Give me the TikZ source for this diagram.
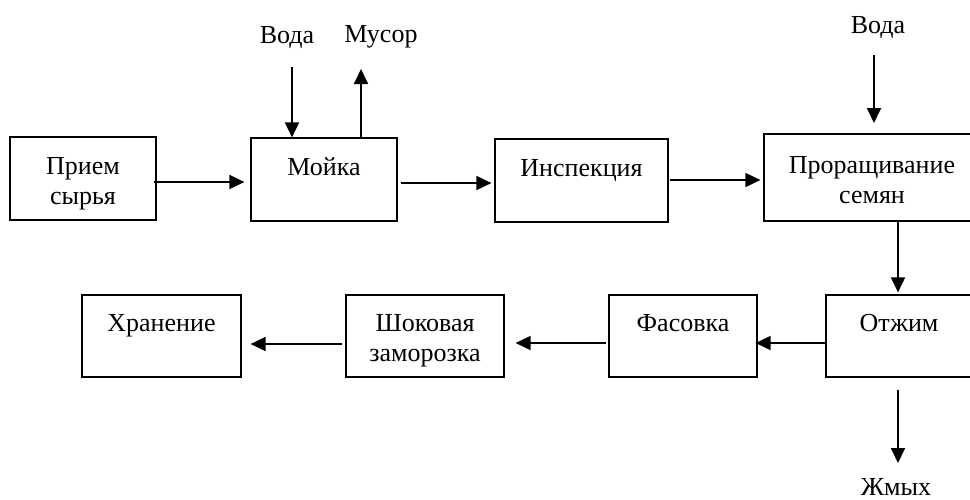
\documentclass[tikz,border=0pt]{standalone}
\usepackage{fontspec}
\setmainfont{Liberation Serif}
\usetikzlibrary{arrows.meta,calc}

% two text lines with fixed struts, so every box places its first line alike
\newcommand{\twolines}[2]{\rule{0pt}{27.5pt}#1\\#2\rule[-6.5pt]{0pt}{6.5pt}}

\tikzset{
  stage/.style={draw, line width=1.2pt, inner sep=0pt, align=center,
    font=\fontsize{26}{30}\selectfont},
  tag/.style={inner sep=0pt, font=\fontsize{26}{30}\selectfont},
  flow/.style={line width=1.8pt, -{Triangle[length=15pt,width=14pt]}},
}

\begin{document}
\begin{tikzpicture}[x=1pt,y=-1pt]
\useasboundingbox (0,0) rectangle (970,499);

% process stages, upper row
\node[stage, minimum width=146pt, minimum height=83pt] (priem) at (83,178.5) {\twolines{Прием}{сырья}};
\node[stage, minimum width=146pt, minimum height=83pt] (moika) at (324,179.5) {\twolines{Мойка}{}};
\node[stage, minimum width=173pt, minimum height=83pt] (insp) at (581.5,180.5) {\twolines{Инспекция}{}};
\node[stage, minimum width=216pt, minimum height=87pt] (pror) at (872,177.5) {\twolines{Проращивание}{семян}};

% process stages, lower row
\node[stage, minimum width=146pt, minimum height=82pt] (otzhim) at (899,336) {\twolines{Отжим}{}};
\node[stage, minimum width=148pt, minimum height=82pt] (fasov) at (683,336) {\twolines{Фасовка}{}};
\node[stage, minimum width=158pt, minimum height=82pt] (shok) at (425,336) {\twolines{Шоковая}{заморозка}};
\node[stage, minimum width=159pt, minimum height=82pt] (hran) at (161.5,336) {\twolines{Хранение}{}};

% inputs and outputs
\node[tag] (voda1) at (287,37) {Вода};
\node[tag] (musor) at (381,37) {Мусор};
\node[tag] (voda2) at (878,27) {Вода};
\node[tag, anchor=base] (zhmyh) at (896,495) {Жмых};

\coordinate (v1) at (292,67);
\coordinate (m1) at (361,69);
\coordinate (v2) at (874,55);
\coordinate (v2e) at (874,123);
\coordinate (j1) at (898,390);
\coordinate (j2) at (898,463);

% main flow
\draw[flow] ($(priem.east)+(-3,3.5)$) -- ($(moika.west)+(-6,2.5)$);
\draw[flow] ($(moika.east)+(3,3.5)$) -- ($(insp.west)+(-3,2.5)$);
\draw[flow] ($(insp.east)+(1,-0.5)$) -- ($(pror.west)+(-3,2.5)$);
\draw[flow] (pror.south -| j1) -- ($(otzhim.north -| j1)+(0,-2)$);
\draw[flow] ($(otzhim.west)+(0,7)$) -- ($(fasov.east)+(-2,7)$);
\draw[flow] ($(fasov.west)+(-2,7)$) -- ($(shok.east)+(11,7)$);
\draw[flow] ($(shok.west)+(-3,8)$) -- ($(hran.east)+(9,8)$);

% side streams
\draw[flow] (v1) -- (v1 |- moika.north);
\draw[flow] (moika.north -| m1) -- (m1);
\draw[flow] (v2) -- (v2e);
\draw[flow] (j1) -- (j2);
\end{tikzpicture}
\end{document}
